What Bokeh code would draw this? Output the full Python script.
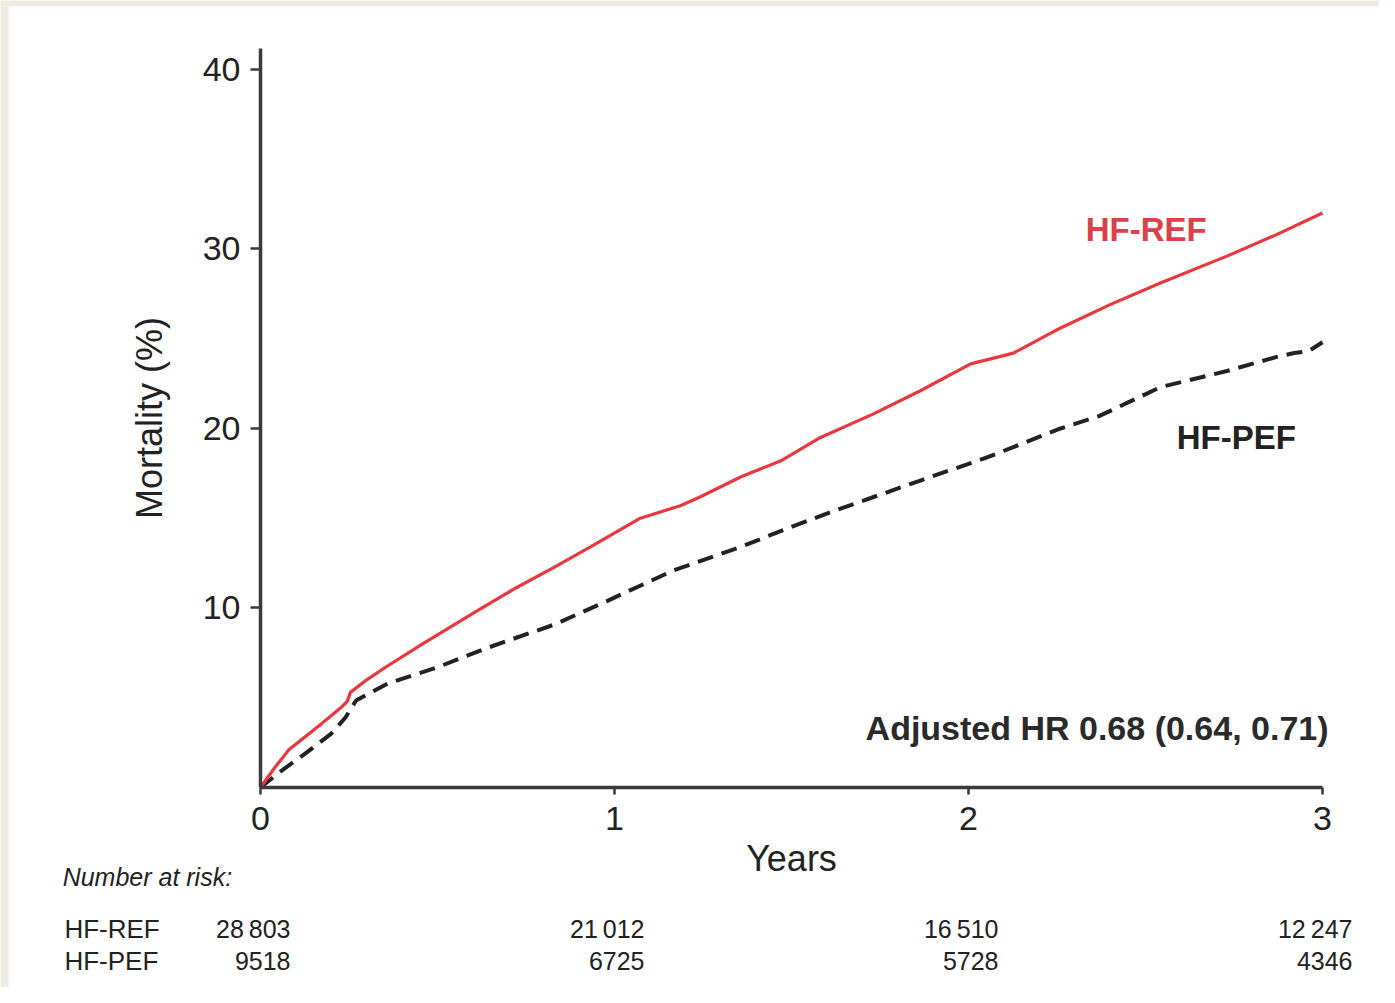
from bokeh.plotting import figure
from bokeh.models import Range1d, FixedTicker, Label, LabelSet, ColumnDataSource, BoxAnnotation
from bokeh.core.properties import value
from bokeh.embed import file_html
from bokeh.resources import INLINE

# ---- data ----
years_ref = [0, 0.04, 0.08, 0.175, 0.23, 0.245, 0.254, 0.30, 0.353, 0.458, 0.60, 0.72,
             0.833, 0.932, 1.073, 1.186, 1.243, 1.356, 1.47, 1.582, 1.73, 1.864, 2.006,
             2.127, 2.26, 2.40, 2.542, 2.73, 2.87, 3.0]
mort_ref = [0, 1.1, 2.1, 3.6, 4.5, 4.8, 5.3, 6.0, 6.7, 8.0, 9.7, 11.1,
            12.3, 13.4, 15.0, 15.7, 16.2, 17.3, 18.2, 19.5, 20.8, 22.1, 23.6,
            24.2, 25.6, 26.9, 28.1, 29.6, 30.8, 32.0]

years_pef = [0, 0.05, 0.127, 0.20, 0.24, 0.27, 0.36, 0.50, 0.644, 0.833, 0.98, 1.167,
             1.356, 1.497, 1.619, 1.864, 2.054, 2.26, 2.37, 2.542, 2.73, 2.873, 2.92,
             2.96, 3.0]
mort_pef = [0, 0.8, 1.9, 3.0, 3.9, 4.85, 5.8, 6.7, 7.8, 9.1, 10.4, 12.1,
            13.4, 14.5, 15.4, 17.1, 18.4, 20.0, 20.7, 22.3, 23.2, 24.0, 24.2,
            24.3, 24.8]

risk_times = [0, 1, 2, 3]
risk_ref = ["28\u2009803", "21\u2009012", "16\u2009510", "12\u2009247"]
risk_pef = ["9518", "6725", "5728", "4346"]

x_ticks = [0, 1, 2, 3]
y_ticks = [10, 20, 30, 40]

FONT = "Liberation Sans"
AXIS_COL = "#3a3a3a"
RED = "#e8383f"

X0, X1 = -0.7345, 3.161
Y0, Y1 = -11.14, 43.84

# frame spans the whole canvas; axes are fixed at x=0 / y=0 so the
# number-at-risk table below the axis can be drawn inside the frame
p = figure(width=1379, height=987, output_backend="svg", toolbar_location=None,
           x_range=Range1d(X0, X1), y_range=Range1d(Y0, Y1),
           min_border=0, background_fill_color="#eeece2", border_fill_color="white")
p.outline_line_color = None
p.grid.visible = False

# white panel inside the thin beige page frame
p.add_layout(BoxAnnotation(left=X0 + 8 / 354, right=X1 + 1, bottom=Y0 - 5, top=Y1 - 6 / 17.95,
                           fill_color="white", fill_alpha=1, line_color=None,
                           level="underlay"))

xa = p.xaxis[0]
xa.ticker = FixedTicker(ticks=x_ticks)
xa.axis_label = "Years"
xa.fixed_location = 0
xa.bounds = (0, 3)
ya = p.yaxis[0]
ya.ticker = FixedTicker(ticks=y_ticks)
ya.axis_label = "Mortality (%)"
ya.fixed_location = 0
ya.bounds = (0, 41.17)
for ax in (xa, ya):
    ax.axis_line_color = AXIS_COL
    ax.axis_line_width = 3.5
    ax.major_tick_line_color = AXIS_COL
    ax.major_tick_line_width = 2.5
    ax.major_tick_in = 0
    ax.minor_tick_line_color = None
    ax.major_label_text_font = FONT
    ax.major_label_text_font_size = "34px"
    ax.major_label_text_color = "#222222"
    ax.axis_label_text_font = FONT
    ax.axis_label_text_font_size = "36px"
    ax.axis_label_text_font_style = "normal"
    ax.axis_label_text_color = "#222222"
xa.major_tick_out = 7
xa.major_label_standoff = 12
xa.axis_label_standoff = 5
ya.major_tick_out = 10
ya.major_label_standoff = 10
ya.axis_label_standoff = 30

# curves
p.line(years_pef, mort_pef, line_color="#222222", line_width=4, line_dash="16 9")
p.line(years_ref, mort_ref, line_color=RED, line_width=3.2)

# series labels
p.add_layout(Label(x=2.331, y=31.1, text="HF-REF", text_font=FONT, text_font_size="33px",
                   text_font_style="bold", text_color="#dc4048", text_baseline="middle",
                   text_align="left"))
p.add_layout(Label(x=2.588, y=19.5, text="HF-PEF", text_font=FONT, text_font_size="33px",
                   text_font_style="bold", text_color="#222222", text_baseline="middle",
                   text_align="left"))
p.add_layout(Label(x=3.017, y=3.34, text="Adjusted HR 0.68 (0.64, 0.71)", text_font=FONT,
                   text_font_size="34px", text_font_style="bold", text_color="#2a2a2a",
                   text_baseline="middle", text_align="right"))

# number at risk table
p.add_layout(Label(x=-0.559, y=-4.96, text="Number at risk:", text_font=FONT,
                   text_font_size="25px", text_font_style="italic", text_color="#222222",
                   text_baseline="middle", text_align="left"))
p.add_layout(Label(x=-0.554, y=-7.86, text="HF-REF", text_font=FONT,
                   text_font_size="26px", text_color="#222222",
                   text_baseline="middle", text_align="left"))
p.add_layout(Label(x=-0.554, y=-9.64, text="HF-PEF", text_font=FONT,
                   text_font_size="26px", text_color="#222222",
                   text_baseline="middle", text_align="left"))

src = ColumnDataSource(dict(x=risk_times, yref=[-7.86] * 4, ypef=[-9.64] * 4,
                            ref=risk_ref, pef=risk_pef))
for ycol, tcol in (("yref", "ref"), ("ypef", "pef")):
    p.add_layout(LabelSet(x="x", y=ycol, text=tcol, source=src, x_offset=30,
                          text_font=value(FONT), text_font_size="25px",
                          text_color="#222222", text_baseline="middle",
                          text_align="right"))

open("out.html", "w").write(file_html(p, INLINE))
